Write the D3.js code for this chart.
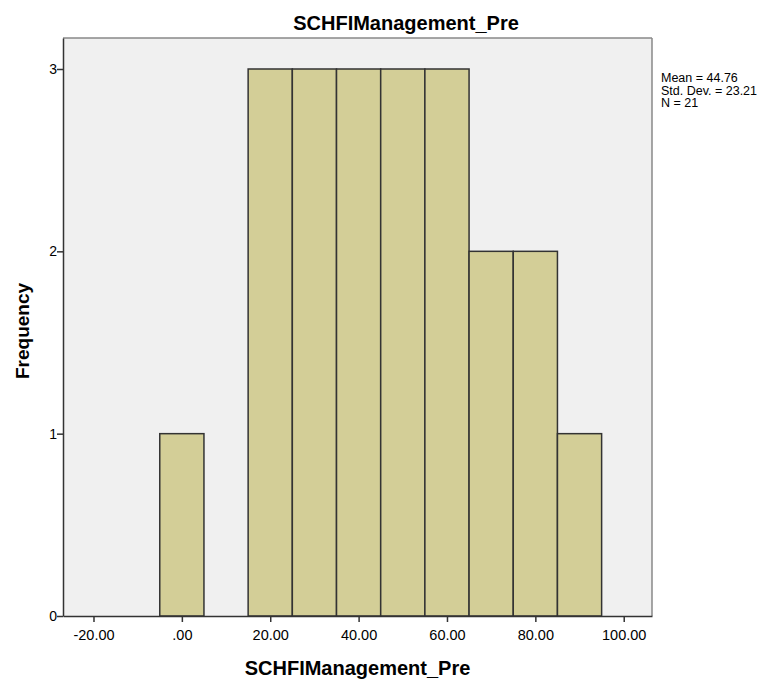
<!DOCTYPE html>
<html>
<head>
<meta charset="utf-8">
<script src="https://cdn.jsdelivr.net/npm/d3@7"></script>
<style>
  body { margin: 0; background: #fff; }
  svg text { font-family: "Liberation Sans", Arial, sans-serif; fill: #000; }
</style>
</head>
<body>
<div id="chart"></div>
<script>
var binStarts = [-5, 5, 15, 25, 35, 45, 55, 65, 75, 85];
var binCounts = [1, 0, 3, 3, 3, 3, 3, 2, 2, 1];
var binWidth = 10;
var xTicks = [-20, 0, 20, 40, 60, 80, 100];
var yTicks = [0, 1, 2, 3];
var stats = ["Mean = 44.76", "Std. Dev. = 23.21", "N = 21"];

var width = 780, height = 685;
var margin = { top: 38, right: 128, bottom: 69, left: 63 };
var plotW = width - margin.left - margin.right;
var plotH = height - margin.top - margin.bottom;

var x = d3.scaleLinear().domain([-26.9, 106.4]).range([0, plotW]);
var y = d3.scaleLinear().domain([0, 3.17]).range([plotH, 0]);

var svg = d3.select("#chart").append("svg")
  .attr("width", width)
  .attr("height", height);

svg.append("text")
  .attr("x", 406)
  .attr("y", 30)
  .attr("text-anchor", "middle")
  .style("font-size", "20px")
  .style("font-weight", "bold")
  .text("SCHFIManagement_Pre");

var g = svg.append("g")
  .attr("transform", "translate(" + margin.left + "," + margin.top + ")");

g.append("rect")
  .attr("width", plotW)
  .attr("height", plotH)
  .style("fill", "#f0f0f0");

g.selectAll(".bar")
  .data(binCounts.map(function(c, i) { return { start: binStarts[i], count: c }; })
    .filter(function(d) { return d.count > 0; }))
  .enter().append("rect")
  .attr("class", "bar")
  .attr("x", function(d) { return x(d.start); })
  .attr("width", function(d) { return x(d.start + binWidth) - x(d.start); })
  .attr("y", function(d) { return y(d.count); })
  .attr("height", function(d) { return y(0) - y(d.count); })
  .style("fill", "#d3ce97")
  .style("stroke", "#333")
  .style("stroke-width", 1.5);

// frame: top/right lighter grey
g.append("line").attr("x1", 0).attr("x2", plotW).attr("y1", 0).attr("y2", 0)
  .style("stroke", "#888").style("stroke-width", 1.5);
g.append("line").attr("x1", plotW).attr("x2", plotW).attr("y1", 0).attr("y2", plotH)
  .style("stroke", "#888").style("stroke-width", 1.5);

var xAxis = g.append("g")
  .attr("transform", "translate(0," + plotH + ")")
  .call(d3.axisBottom(x).tickValues(xTicks).tickSize(6).tickSizeOuter(0)
    .tickFormat(function(d) { return d === 0 ? ".00" : d.toFixed(2); }));
xAxis.select(".domain").style("stroke", "#333").style("stroke-width", 1.5);
xAxis.selectAll(".tick line").style("stroke", "#333").style("stroke-width", 1.5);
xAxis.selectAll(".tick text")
  .style("font-size", "14.5px")
  .attr("y", 24)
  .attr("dy", null)
  .style("font-family", "'Liberation Sans', Arial, sans-serif");

var yAxis = g.append("g")
  .call(d3.axisLeft(y).tickValues(yTicks).tickSize(6).tickSizeOuter(0)
    .tickFormat(d3.format("d")));
yAxis.select(".domain").style("stroke", "#333").style("stroke-width", 1.5);
yAxis.selectAll(".tick line").style("stroke", "#333").style("stroke-width", 1.5);
yAxis.selectAll(".tick text")
  .style("font-size", "14px")
  .attr("x", -6)
  .style("font-family", "'Liberation Sans', Arial, sans-serif");

svg.append("text")
  .attr("x", margin.left + plotW / 2)
  .attr("y", 675)
  .attr("text-anchor", "middle")
  .style("font-size", "20px")
  .style("font-weight", "bold")
  .text("SCHFIManagement_Pre");

svg.append("text")
  .attr("transform", "translate(29," + (margin.top + plotH / 2 + 4) + ") rotate(-90)")
  .attr("text-anchor", "middle")
  .style("font-size", "19px")
  .style("font-weight", "bold")
  .text("Frequency");

svg.selectAll(".stat")
  .data(stats)
  .enter().append("text")
  .attr("class", "stat")
  .attr("x", 661)
  .attr("y", function(d, i) { return 82 + i * 12.5; })
  .style("font-size", "12.5px")
  .text(function(d) { return d; });
</script>
</body>
</html>
